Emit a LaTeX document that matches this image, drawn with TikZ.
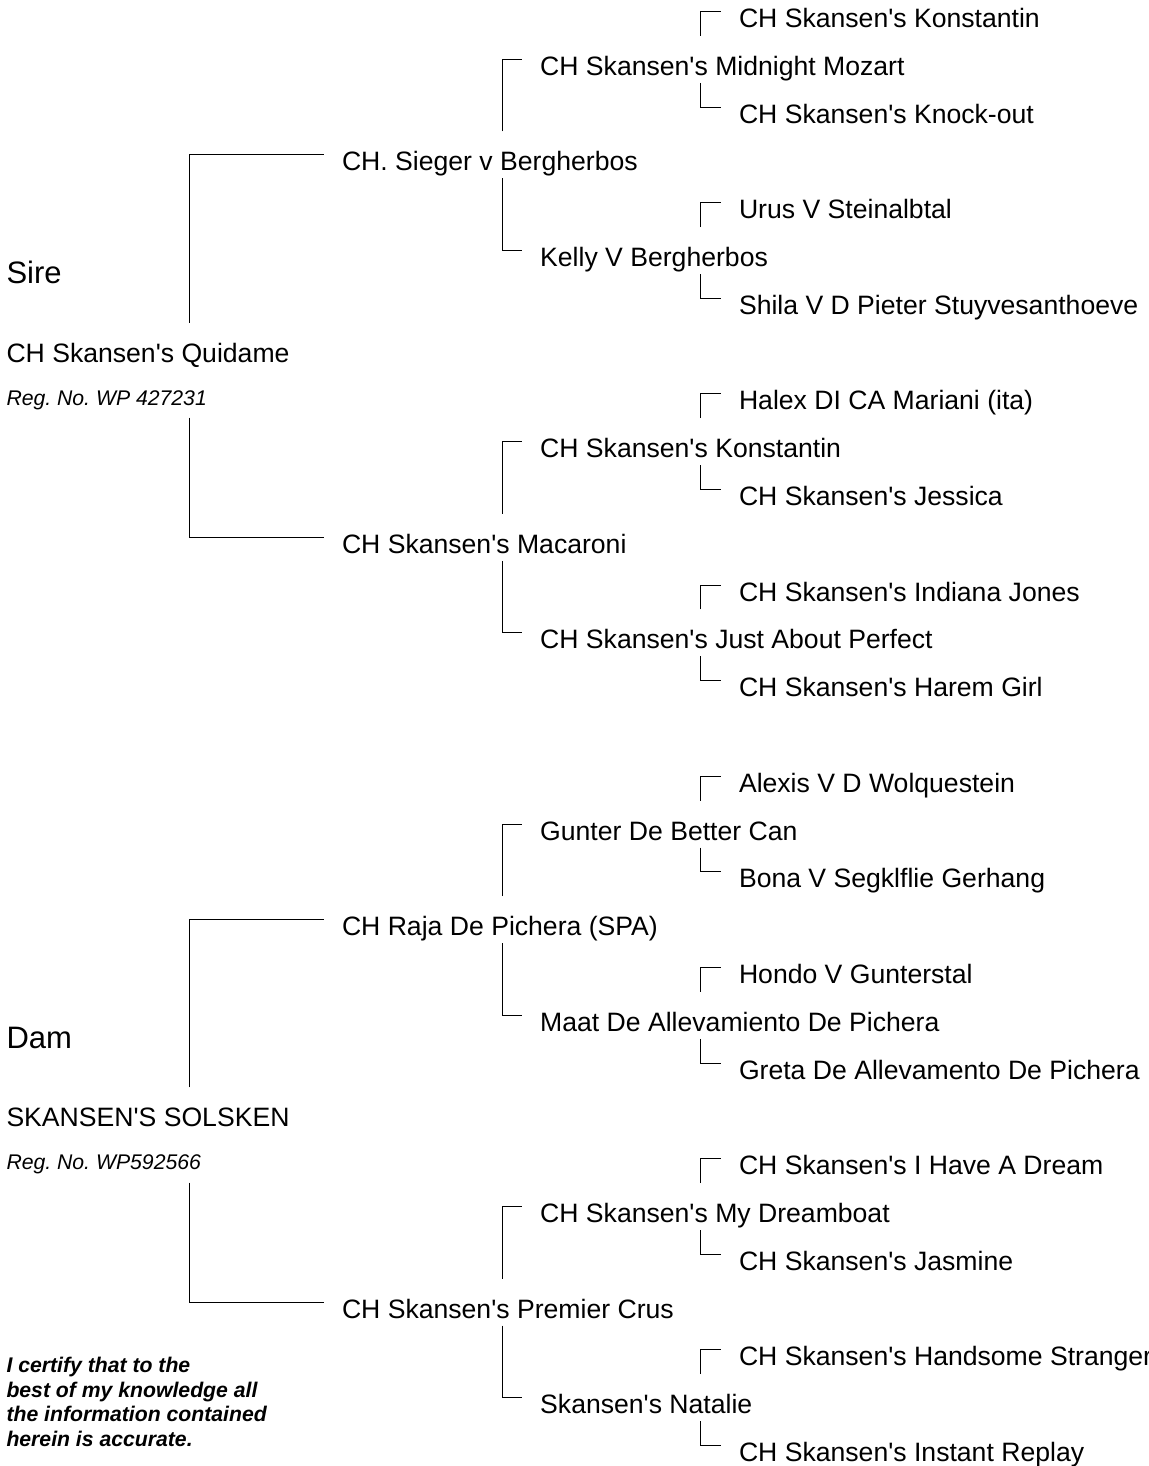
\documentclass[tikz,border=0pt]{standalone}
\usepackage{fontspec}
\setmainfont{Liberation Sans}[Ligatures=TeXOff]
\frenchspacing
\begin{document}
\begin{tikzpicture}[x=1pt,y=-1pt,line width=1pt,
    dog/.style={anchor=base west,inner sep=0pt,font=\fontsize{26.6}{30}\selectfont},
    side/.style={anchor=base west,inner sep=0pt,font=\fontsize{31}{36}\selectfont},
    reg/.style={anchor=base west,inner sep=0pt,font=\fontsize{21.2}{25}\selectfont\itshape}]
        \useasboundingbox (0,0) rectangle (1148,1466);
        \begin{scope}
          \node[side](h) at(6,283.3){Sire};
          \node[dog](a) at(6,362.1){CH Skansen's Quidame};
          \node[reg](r) at(6,405){Reg. No. WP 427231};
          \node[dog](a1) at(341.5,170.9){CH. Sieger v Bergherbos};
          \node[dog](a2) at(341.5,553.3){CH Skansen's Macaroni};
          \node[dog](a11) at(539.7,75.3){CH Skansen's Midnight Mozart};
          \node[dog](a12) at(539.7,266.5){Kelly V Bergherbos};
          \node[dog](a21) at(539.7,457.7){CH Skansen's Konstantin};
          \node[dog](a22) at(539.7,648.9){CH Skansen's Just About Perfect};
          \node[dog](a111) at(738.5,27.5){CH Skansen's Konstantin};
          \node[dog](a112) at(738.5,123.1){CH Skansen's Knock-out};
          \node[dog](a121) at(738.5,218.7){Urus V Steinalbtal};
          \node[dog](a122) at(738.5,314.3){Shila V D Pieter Stuyvesanthoeve};
          \node[dog](a211) at(738.5,409.9){Halex DI CA Mariani (ita)};
          \node[dog](a212) at(738.5,505.5){CH Skansen's Jessica};
          \node[dog](a221) at(738.5,601.1){CH Skansen's Indiana Jones};
          \node[dog](a222) at(738.5,696.7){CH Skansen's Harem Girl};
          \draw([shift={(183.3,-39.5)}]a.base west)|-([shift={(-18,-16)}]a1.base west);
          \draw([shift={(183.3,12.7)}]r.base west)|-([shift={(-18,-16)}]a2.base west);
          \draw([shift={(161.2,-39.5)}]a1.base west)|-([shift={(-18,-16)}]a11.base west);
          \draw([shift={(161.2,7.5)}]a1.base west)|-([shift={(-18,-16)}]a12.base west);
          \draw([shift={(161.2,-39.5)}]a2.base west)|-([shift={(-18,-16)}]a21.base west);
          \draw([shift={(161.2,7.5)}]a2.base west)|-([shift={(-18,-16)}]a22.base west);
          \draw([shift={(160.3,-39.5)}]a11.base west)|-([shift={(-18,-16)}]a111.base west);
          \draw([shift={(160.3,7.5)}]a11.base west)|-([shift={(-18,-16)}]a112.base west);
          \draw([shift={(160.3,-39.5)}]a12.base west)|-([shift={(-18,-16)}]a121.base west);
          \draw([shift={(160.3,7.5)}]a12.base west)|-([shift={(-18,-16)}]a122.base west);
          \draw([shift={(160.3,-39.5)}]a21.base west)|-([shift={(-18,-16)}]a211.base west);
          \draw([shift={(160.3,7.5)}]a21.base west)|-([shift={(-18,-16)}]a212.base west);
          \draw([shift={(160.3,-39.5)}]a22.base west)|-([shift={(-18,-16)}]a221.base west);
          \draw([shift={(160.3,7.5)}]a22.base west)|-([shift={(-18,-16)}]a222.base west);
        \end{scope}
        \begin{scope}[yshift=-764.8pt]
          \node[side](h) at(6,283.3){Dam};
          \node[dog](a) at(6,362.1){SKANSEN'S SOLSKEN};
          \node[reg](r) at(6,405){Reg. No. WP592566};
          \node[dog](a1) at(341.5,170.9){CH Raja De Pichera (SPA)};
          \node[dog](a2) at(341.5,553.3){CH Skansen's Premier Crus};
          \node[dog](a11) at(539.7,75.3){Gunter De Better Can};
          \node[dog](a12) at(539.7,266.5){Maat De Allevamiento De Pichera};
          \node[dog](a21) at(539.7,457.7){CH Skansen's My Dreamboat};
          \node[dog](a22) at(539.7,648.9){Skansen's Natalie};
          \node[dog](a111) at(738.5,27.5){Alexis V D Wolquestein};
          \node[dog](a112) at(738.5,123.1){Bona V Segklflie Gerhang};
          \node[dog](a121) at(738.5,218.7){Hondo V Gunterstal};
          \node[dog](a122) at(738.5,314.3){Greta De Allevamento De Pichera};
          \node[dog](a211) at(738.5,409.9){CH Skansen's I Have A Dream};
          \node[dog](a212) at(738.5,505.5){CH Skansen's Jasmine};
          \node[dog](a221) at(738.5,601.1){CH Skansen's Handsome Stranger};
          \node[dog](a222) at(738.5,696.7){CH Skansen's Instant Replay};
          \draw([shift={(183.3,-39.5)}]a.base west)|-([shift={(-18,-16)}]a1.base west);
          \draw([shift={(183.3,12.7)}]r.base west)|-([shift={(-18,-16)}]a2.base west);
          \draw([shift={(161.2,-39.5)}]a1.base west)|-([shift={(-18,-16)}]a11.base west);
          \draw([shift={(161.2,7.5)}]a1.base west)|-([shift={(-18,-16)}]a12.base west);
          \draw([shift={(161.2,-39.5)}]a2.base west)|-([shift={(-18,-16)}]a21.base west);
          \draw([shift={(161.2,7.5)}]a2.base west)|-([shift={(-18,-16)}]a22.base west);
          \draw([shift={(160.3,-39.5)}]a11.base west)|-([shift={(-18,-16)}]a111.base west);
          \draw([shift={(160.3,7.5)}]a11.base west)|-([shift={(-18,-16)}]a112.base west);
          \draw([shift={(160.3,-39.5)}]a12.base west)|-([shift={(-18,-16)}]a121.base west);
          \draw([shift={(160.3,7.5)}]a12.base west)|-([shift={(-18,-16)}]a122.base west);
          \draw([shift={(160.3,-39.5)}]a21.base west)|-([shift={(-18,-16)}]a211.base west);
          \draw([shift={(160.3,7.5)}]a21.base west)|-([shift={(-18,-16)}]a212.base west);
          \draw([shift={(160.3,-39.5)}]a22.base west)|-([shift={(-18,-16)}]a221.base west);
          \draw([shift={(160.3,7.5)}]a22.base west)|-([shift={(-18,-16)}]a222.base west);
        \end{scope}
        \node[anchor=north west,align=left,inner sep=0pt,
          font=\fontsize{21.2}{24.5}\selectfont\bfseries\itshape](c) at(6,1357)
          {I certify that to the\\best of my knowledge all\\the information contained\\herein is accurate.};
      \end{tikzpicture}
\end{document}
